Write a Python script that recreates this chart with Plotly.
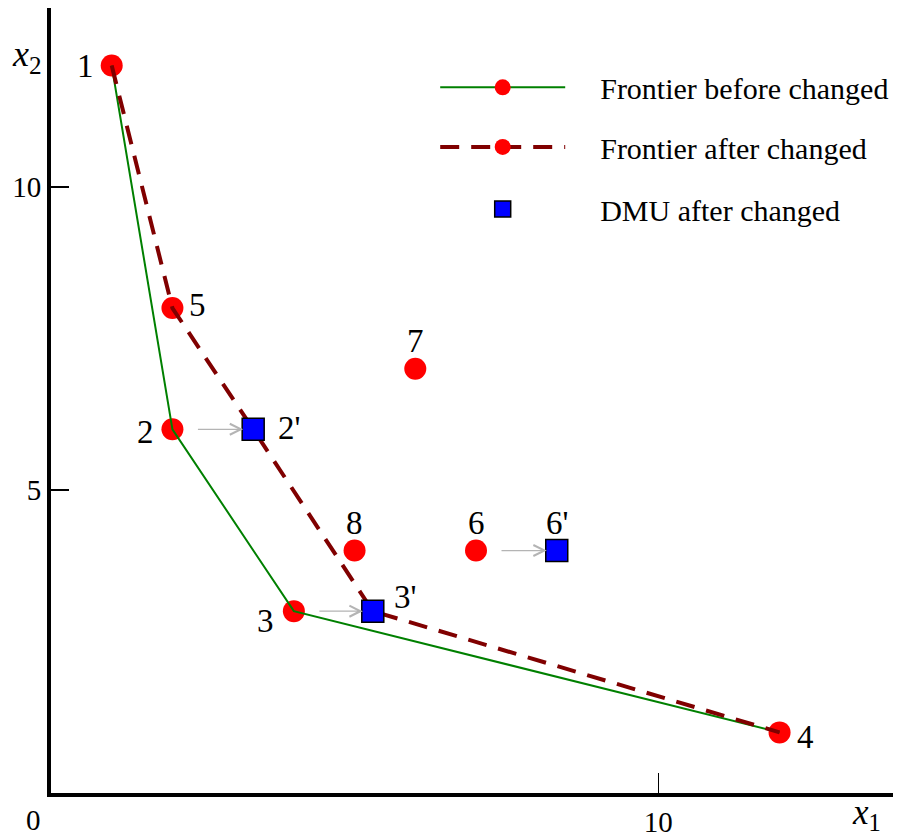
import plotly.graph_objects as go

# DMU data
dmu_labels = ["1", "2", "3", "4", "5", "6", "7", "8"]
dmu_x = [1, 2, 4, 12, 2, 7, 6, 5]
dmu_y = [12, 6, 3, 1, 8, 4, 7, 4]

changed_labels = ["2'", "3'", "6'"]
changed_x = [3.33, 5.3, 8.33]
changed_y = [6, 3, 4]
changed_from = ["2", "3", "6"]

front_before_x = [1, 2, 4, 12]
front_before_y = [12, 6, 3, 1]
front_after_x = [1, 2, 3.33, 5.3, 12]
front_after_y = [12, 8, 6, 3, 1]

legend_names = ["Frontier before changed", "Frontier after changed", "DMU after changed"]

# label offsets (style, pixels)
label_shift = {"1": (-26, 0), "2": (-27, -3), "3": (-28, -10), "4": (26, -5),
               "5": (25, 3), "6": (0, 28), "7": (0, 28), "8": (0, 28),
               "2'": (36, 1), "3'": (32, 14), "6'": (0, 28)}

FONT = "Liberation Serif"
RED = "#ff0000"
GREEN = "#008000"
DRED = "#800000"
BLUE = "#0000ff"
PAD = "\u00a0\u00a0\u00a0\u00a0"

fig = go.Figure()

# markers first (lines drawn over them)
fig.add_trace(go.Scatter(x=dmu_x, y=dmu_y, mode="markers", showlegend=False,
                         marker=dict(color=RED, size=22, line=dict(width=0))))
fig.add_trace(go.Scatter(x=front_before_x, y=front_before_y, mode="lines", showlegend=False,
                         line=dict(color=GREEN, width=2)))
fig.add_trace(go.Scatter(x=front_after_x, y=front_after_y, mode="lines", showlegend=False,
                         line=dict(color=DRED, width=4, dash="19px,12px")))
fig.add_trace(go.Scatter(x=changed_x, y=changed_y, mode="markers", showlegend=False,
                         marker=dict(color=BLUE, size=22, symbol="square",
                                     line=dict(color="black", width=1.5))))

# legend entries
fig.add_trace(go.Scatter(x=[None], y=[None], mode="lines+markers", name=PAD + legend_names[0],
                         line=dict(color=GREEN, width=2), marker=dict(color=RED, size=22),
                         legend="legend"))
fig.add_trace(go.Scatter(x=[None], y=[None], mode="lines+markers", name=PAD + legend_names[1],
                         line=dict(color=DRED, width=4, dash="19px,12px"), marker=dict(color=RED, size=22),
                         legend="legend2"))
fig.add_trace(go.Scatter(x=[None], y=[None], mode="markers", name=PAD + legend_names[2],
                         marker=dict(color=BLUE, size=20, symbol="square", line=dict(color="black", width=1.5)),
                         legend="legend3"))

annotations = []
for lab, x, y in zip(dmu_labels, dmu_x, dmu_y):
    dx, dy = label_shift[lab]
    annotations.append(dict(x=x, y=y, text=lab, showarrow=False, xshift=dx, yshift=dy,
                            font=dict(family=FONT, size=33, color="black")))
for lab, x, y in zip(changed_labels, changed_x, changed_y):
    dx, dy = label_shift[lab]
    annotations.append(dict(x=x, y=y, text=lab, showarrow=False, xshift=dx, yshift=dy,
                            font=dict(family=FONT, size=33, color="black")))
# arrows from original to changed DMU
for src, x, y in zip(changed_from, changed_x, changed_y):
    i = dmu_labels.index(src)
    annotations.append(dict(x=x, y=y, ax=dmu_x[i], ay=dmu_y[i], xref="x", yref="y",
                            axref="x", ayref="y", text="", showarrow=True,
                            arrowhead=5, arrowsize=1.8, arrowwidth=1.2, arrowcolor="#b4b4b4",
                            standoff=10, startstandoff=24))
# axis titles and origin label
annotations.append(dict(x=-0.028, y=0.938, xref="paper", yref="paper", text="<i>x</i><sub>2</sub>",
                        xanchor="center", yanchor="middle",
                        showarrow=False, font=dict(family=FONT, size=36, color="black")))
annotations.append(dict(x=0.959, y=-0.027, xref="paper", yref="paper", text="<i>x</i><sub>1</sub>",
                        xanchor="center", yanchor="middle",
                        showarrow=False, font=dict(family=FONT, size=35, color="black")))
annotations.append(dict(x=-0.021, y=-0.034, xref="paper", yref="paper", text="0",
                        xanchor="center", yanchor="middle",
                        showarrow=False, font=dict(family=FONT, size=29, color="black")))

leg_common = dict(font=dict(family=FONT, size=30, color="black"), bgcolor="rgba(0,0,0,0)",
                  itemwidth=125, xanchor="left", yanchor="middle", x=0.452)

fig.update_layout(
    width=893, height=830,
    margin=dict(l=43, r=0, t=0, b=45),
    font=dict(family=FONT, color="black"),
    plot_bgcolor="white", paper_bgcolor="white",
    annotations=annotations,
    legend=dict(**leg_common, y=0.899),
    legend2=dict(**leg_common, y=0.823),
    legend3=dict(**leg_common, y=0.744),
    xaxis=dict(range=[0, 14], showgrid=False, zeroline=False, showline=True, automargin=False,
               linecolor="black", linewidth=4, ticks="inside", ticklen=20, tickwidth=1.2,
               tickcolor="black", tickvals=[10], ticktext=["10"],
               tickfont=dict(family=FONT, size=29, color="black")),
    yaxis=dict(range=[0, 12.95], showgrid=False, zeroline=False, showline=True, automargin=False,
               linecolor="black", linewidth=4, ticks="inside", ticklen=18, tickwidth=1.5,
               tickcolor="black", tickvals=[5, 10], ticktext=["5", "10"],
               tickfont=dict(family=FONT, size=29, color="black")),
)

fig.write_html("out.html")
